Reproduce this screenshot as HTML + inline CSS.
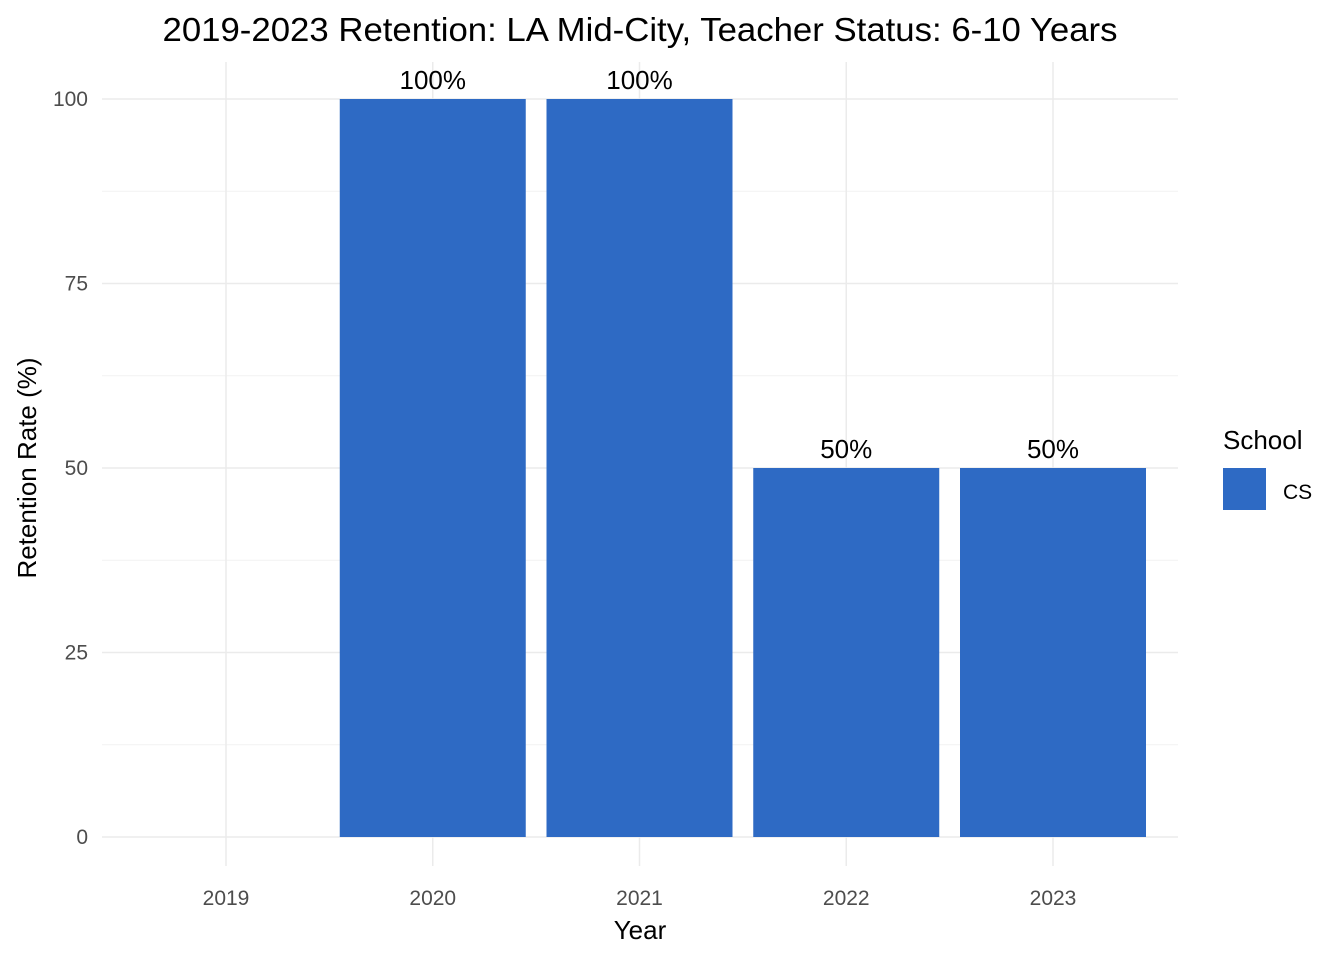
<!DOCTYPE html>
<html><head><meta charset="utf-8"><style>body{margin:0;background:#fff}svg{display:block;font-family:"Liberation Sans",Arial,sans-serif}</style></head>
<body>
<svg id="chart" width="1344" height="960" xmlns="http://www.w3.org/2000/svg">
<text x="640" y="41" font-size="33" text-anchor="middle" textLength="955" lengthAdjust="spacingAndGlyphs" fill="#000">2019-2023 Retention: LA Mid-City, Teacher Status: 6-10 Years</text>
<g id="grid"></g><g id="bars"></g><g id="labels"></g><g id="axes"></g>
<text x="640" y="939" font-size="26" text-anchor="middle" fill="#000">Year</text>
<text transform="translate(36,468) rotate(-90)" font-size="26" text-anchor="middle" fill="#000">Retention Rate (%)</text>
<g>
<text x="1223" y="449" font-size="26" fill="#000">School</text>
<rect x="1223" y="468" width="43" height="42" fill="#2E6AC4"/>
<text x="1283" y="499" font-size="21" fill="#000">CS</text>
</g>
</svg>
<script>
const categories=["2019","2020","2021","2022","2023"];
const values=[null,100,100,50,50];
const valueLabels=["","100%","100%","50%","50%"];
const yTicks=[0,25,50,75,100];
const ns="http://www.w3.org/2000/svg";
const x0=226,step=206.75,bw=186,left=102,right=1178;
function xs(i){return x0+i*step;}
function ys(v){return 837-v*7.38;}
function mk(t,a,p){const e=document.createElementNS(ns,t);for(const k in a)e.setAttribute(k,a[k]);p.appendChild(e);return e;}
const grid=document.getElementById('grid'),bars=document.getElementById('bars'),labels=document.getElementById('labels'),axes=document.getElementById('axes');
for(let i=0;i<yTicks.length-1;i++){const m=(yTicks[i]+yTicks[i+1])/2;
const l=mk('line',{x1:left,x2:right,y1:ys(m),y2:ys(m),stroke:'#f2f2f2','stroke-width':1},grid);
}
yTicks.forEach(v=>{const l=mk('line',{x1:left,x2:right,y1:ys(v),y2:ys(v),stroke:'#ebebeb','stroke-width':1.5},grid);

const t=mk('text',{x:88,y:ys(v)+7,'font-size':21,'text-anchor':'end',fill:'#4d4d4d'},axes);t.textContent=v;
});
categories.forEach((c,i)=>{const l=mk('line',{x1:xs(i),x2:xs(i),y1:62,y2:866,stroke:'#ebebeb','stroke-width':1.5},grid);

const t=mk('text',{x:xs(i),y:905,'font-size':21,'text-anchor':'middle',fill:'#4d4d4d'},axes);t.textContent=c;

if(values[i]!=null){const r=mk('rect',{x:xs(i)-bw/2,y:ys(values[i]),width:bw,height:ys(0)-ys(values[i]),fill:'#2E6AC4'},bars);

const lt=mk('text',{x:xs(i),y:ys(values[i])-10,'font-size':26,'text-anchor':'middle',fill:'#000'},labels);lt.textContent=valueLabels[i];
}});
</script>
</body></html>
